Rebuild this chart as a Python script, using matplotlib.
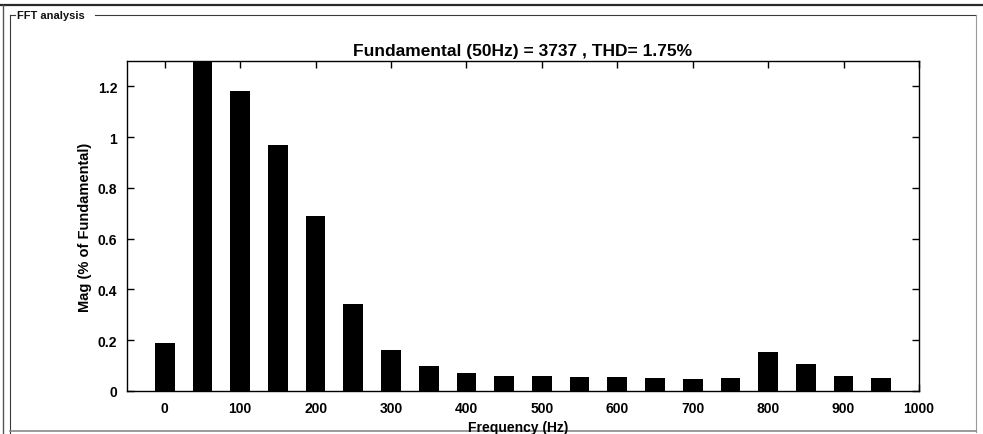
import matplotlib
matplotlib.use("Agg")
import matplotlib.pyplot as plt
from matplotlib.lines import Line2D

plt.rcParams['font.family'] = ['Liberation Sans', 'DejaVu Sans']

freqs = [0, 50, 100, 150, 200, 250, 300, 350, 400, 450,
         500, 550, 600, 650, 700, 750, 800, 850, 900, 950]
mags = [0.188, 100.0, 1.18, 0.97, 0.69, 0.342, 0.162, 0.097, 0.071, 0.061,
        0.061, 0.057, 0.057, 0.053, 0.049, 0.053, 0.152, 0.106, 0.061, 0.05]
xticks = [0, 100, 200, 300, 400, 500, 600, 700, 800, 900, 1000]
yticks = [0, 0.2, 0.4, 0.6, 0.8, 1.0, 1.2]
yticklabels = ['0', '0.2', '0.4', '0.6', '0.8', '1', '1.2']
title = 'Fundamental (50Hz) = 3737 , THD= 1.75%'

W, H = 983, 435
fig = plt.figure(figsize=(W / 100, H / 100), dpi=100)
fig.patch.set_facecolor('white')

def fx(px):
    return px / W

def fy(py):
    return 1 - py / H

# panel frame lines
col = '#3a3a3a'
fig.add_artist(Line2D([fx(0), fx(983)], [fy(6), fy(6)], color='#2a2a2a', lw=1.6))
fig.add_artist(Line2D([fx(3), fx(3)], [fy(6), fy(435)], color='#555555', lw=1.0))
fig.add_artist(Line2D([fx(10), fx(10)], [fy(16), fy(435)], color=col, lw=0.8))
fig.add_artist(Line2D([fx(10), fx(15)], [fy(16), fy(16)], color=col, lw=0.8))
fig.add_artist(Line2D([fx(95), fx(976)], [fy(16), fy(16)], color=col, lw=0.8))
fig.add_artist(Line2D([fx(976), fx(976)], [fy(16), fy(433)], color='#9a9a9a', lw=0.8))
fig.add_artist(Line2D([fx(10), fx(976)], [fy(432), fy(432)], color='#8a8a8a', lw=1.2))
fig.text(fx(17), fy(16), 'FFT analysis', fontsize=8, fontweight='bold',
         ha='left', va='center', color='#111111')

ax = fig.add_axes([fx(127), fy(392), fx(919) - fx(127), fy(62) - fy(392)])
ax.bar(freqs, mags, width=26, color='black', edgecolor='black', linewidth=0)
ax.set_xlim(-50, 1000)
ax.set_ylim(0, 1.3)
ax.set_xticks(xticks)
ax.set_xticklabels([str(t) for t in xticks])
ax.set_yticks(yticks)
ax.set_yticklabels(yticklabels)
ax.tick_params(direction='in', length=5, width=1, top=True, right=True,
               labelsize=10, pad=7)
for lab in ax.get_xticklabels() + ax.get_yticklabels():
    lab.set_fontweight('bold')
for sp in ax.spines.values():
    sp.set_linewidth(1.0)
ax.set_title(title, fontsize=12.5, fontweight='bold', pad=4)
ax.set_ylabel('Mag (% of Fundamental)', fontsize=10.5, fontweight='bold', labelpad=4)
fig.text(fx(518), fy(421), 'Frequency (Hz)', fontsize=10, fontweight='bold',
         ha='center', va='top')

fig.savefig('out.png', dpi=100)
